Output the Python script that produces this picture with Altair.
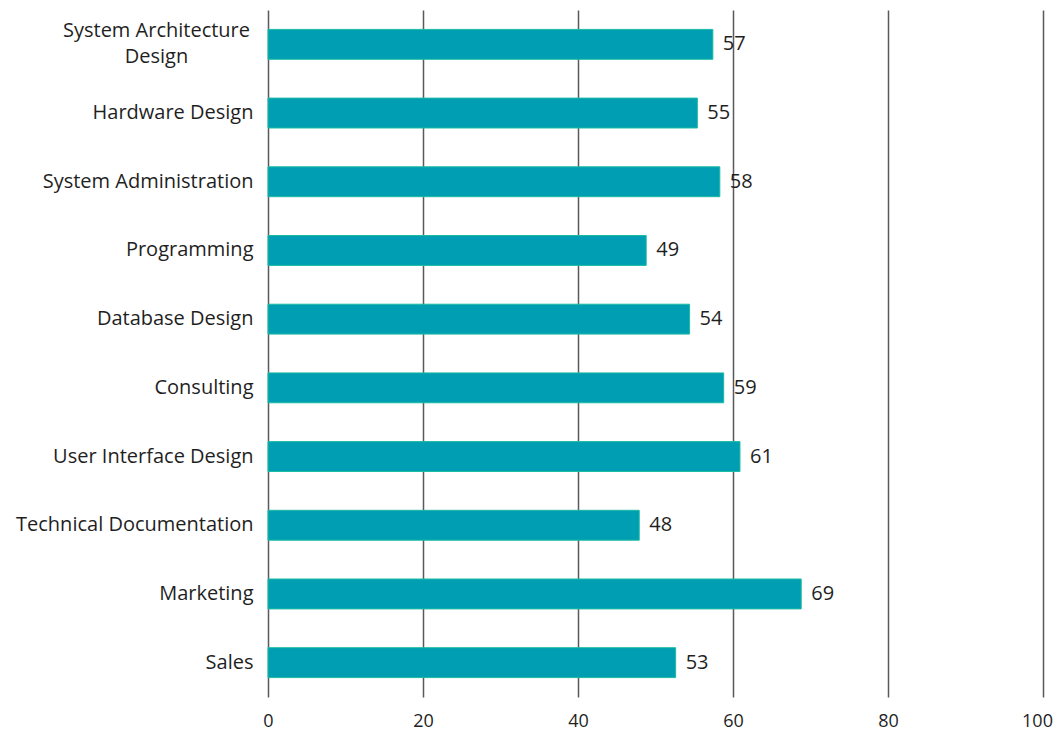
import altair as alt
import pandas as pd

categories = [
    "System Architecture Design",
    "Hardware Design",
    "System Administration",
    "Programming",
    "Database Design",
    "Consulting",
    "User Interface Design",
    "Technical Documentation",
    "Marketing",
    "Sales",
]
values = [57.4, 55.4, 58.3, 48.8, 54.4, 58.8, 60.9, 47.9, 68.8, 52.6]
x_ticks = [0, 20, 40, 60, 80, 100]

df = pd.DataFrame({"category": categories, "value": values})

FONT = "Open Sans"
TEXT = "#1f1f1f"
GRID = "#5a5a5a"
TWO_LINE = "datum.value == 'System Architecture Design'"

y_enc = alt.Y(
    "category:N",
    sort=categories,
    title=None,
    scale=alt.Scale(paddingInner=0.565, paddingOuter=0.2825),
    axis=alt.Axis(
        domain=False,
        ticks=False,
        grid=False,
        labelFont=FONT,
        labelFontSize=20,
        labelColor=TEXT,
        labelLineHeight=26,
        labelLimit=400,
        labelExpr=TWO_LINE + " ? ['System Architecture', 'Design'] : datum.value",
        labelAlign={"condition": {"test": TWO_LINE, "value": "center"}, "value": "right"},
        labelPadding={"condition": {"test": TWO_LINE, "value": 112}, "value": 15},
        labelOffset={"condition": {"test": TWO_LINE, "value": -13}, "value": 0},
    ),
)

x_enc = alt.X(
    "value:Q",
    title=None,
    scale=alt.Scale(domain=[0, 100], nice=False),
    axis=alt.Axis(
        values=x_ticks,
        domain=False,
        ticks=False,
        grid=True,
        gridColor=GRID,
        gridWidth=1.5,
        gridOpacity=1,
        labelFont=FONT,
        labelFontSize=18,
        labelColor=TEXT,
        labelPadding=15,
        labelFlush=False,
        labelOverlap=False,
        labelOffset={"condition": {"test": "datum.value == 100", "value": -6}, "value": 0},
    ),
)

bars = alt.Chart(df).mark_bar(
    color="#009EB2", stroke="#1BBBA4", strokeWidth=1
).encode(x=x_enc, y=y_enc)

labels = alt.Chart(df).mark_text(
    align="left", baseline="middle", dx=10, font=FONT, fontSize=20, color=TEXT
).encode(
    x=x_enc,
    y=y_enc,
    text=alt.Text("value:Q", format=".0f"),
)

chart = (
    alt.layer(bars, labels)
    .properties(
        width=775,
        height=687,
        background="white",
        autosize=alt.AutoSizeParams(type="none"),
        padding={"left": 260, "top": 2, "right": 10, "bottom": 45},
    )
    .configure_view(stroke="transparent", strokeWidth=0)
)

chart.save("out.html", embed_options={"renderer": "svg", "actions": False})
